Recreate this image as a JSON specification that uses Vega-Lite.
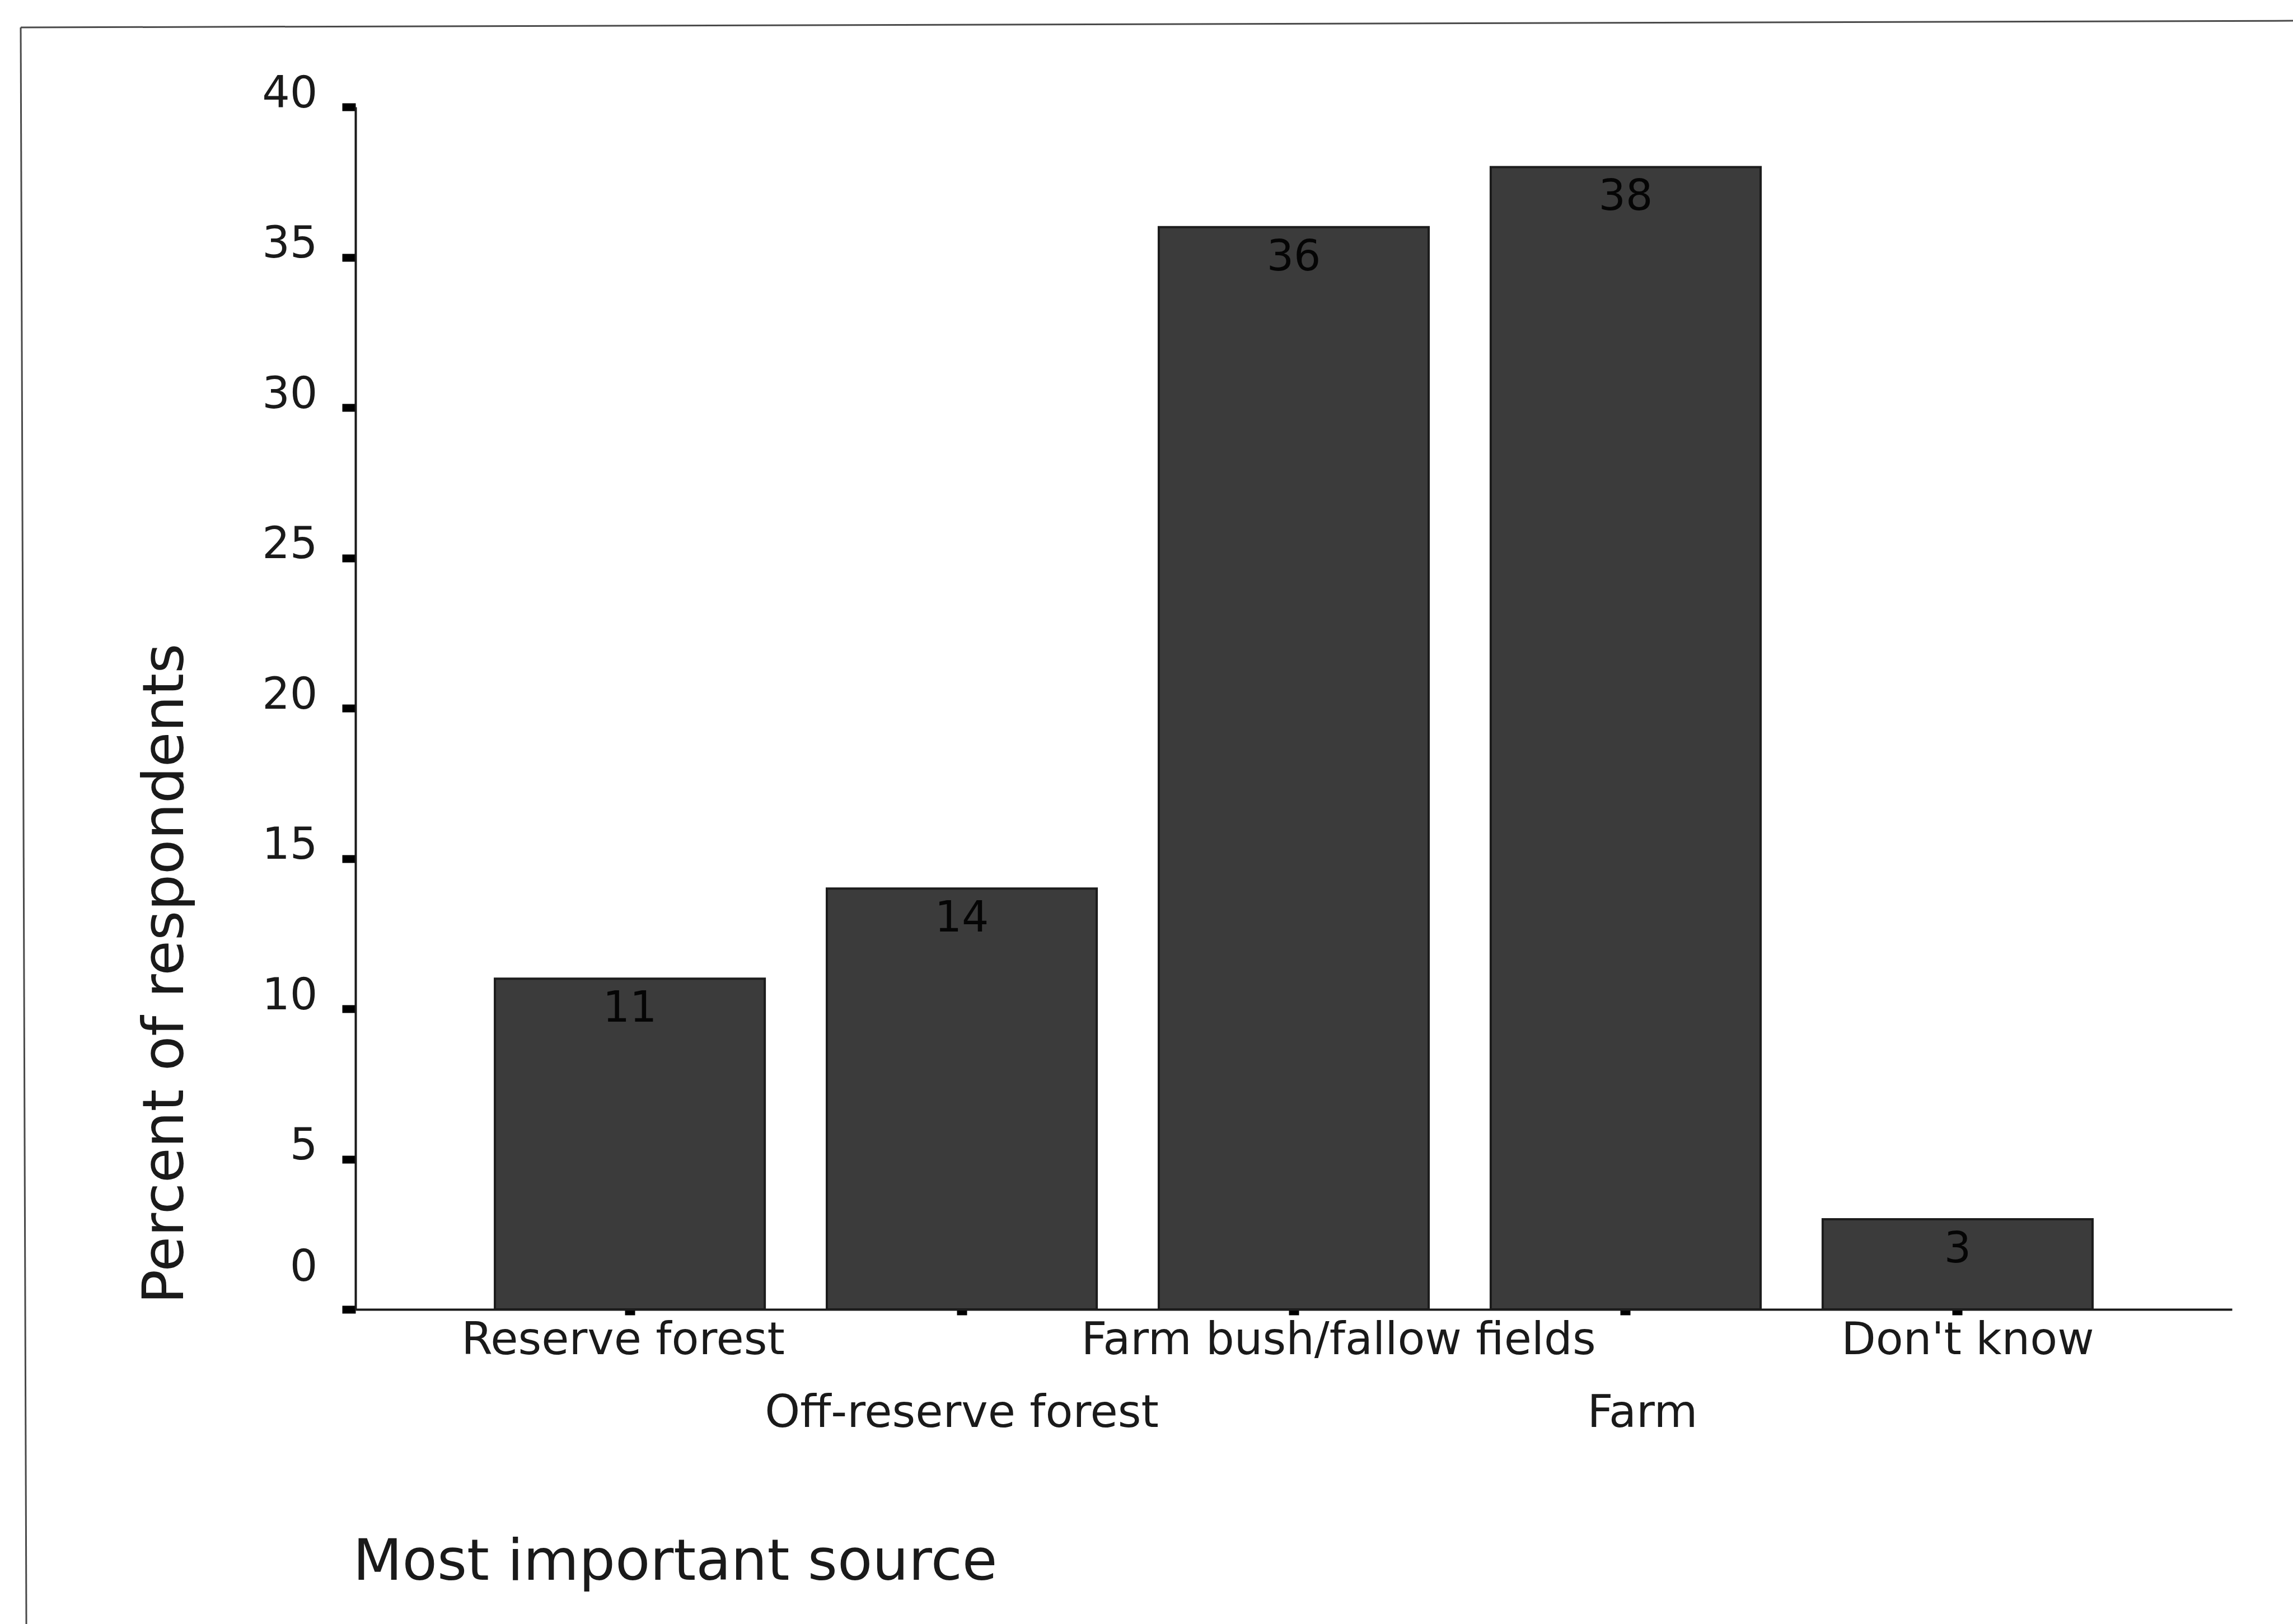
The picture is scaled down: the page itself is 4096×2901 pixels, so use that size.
{
  "$schema": "https://vega.github.io/schema/vega-lite/v6.json",
  "autosize": {"type": "none"},
  "width": 3352,
  "height": 2148,
  "padding": {"left": 635, "top": 191, "right": 109, "bottom": 562},
  "background": "white",
  "config": {"view": {"stroke": null}, "font": "DejaVu Sans"},
  "resolve": {"scale": {"x": "independent", "y": "independent"}},
  "layer": [
    {
      "data": {
        "values": [
          {"source": "Reserve forest", "percent": 11},
          {"source": "Off-reserve forest", "percent": 14},
          {"source": "Farm bush/fallow fields", "percent": 36},
          {"source": "Farm", "percent": 38},
          {"source": "Don't know", "percent": 3}
        ]
      },
      "encoding": {
        "x": {
          "field": "source",
          "type": "nominal",
          "sort": null,
          "scale": {"paddingInner": 0.187, "paddingOuter": 0.42},
          "axis": {
            "title": "Most important source",
            "labelAngle": 0,
            "labelFont": "DejaVu Sans",
            "labelFontSize": 80,
            "labelColor": "#1a1a1a",
            "labelAlign": "center",
            "labelBaseline": "top",
            "labelPadding": {"condition": {"test": "datum.value === 'Off-reserve forest' || datum.value === 'Farm'", "value": 136}, "value": 6},
            "labelOffset": {
              "condition": [
                {"test": "datum.value === 'Farm bush/fallow fields'", "value": 80},
                {"test": "datum.value === 'Farm'", "value": 30},
                {"test": "datum.value === \"Don't know\"", "value": 18},
                {"test": "datum.value === 'Reserve forest'", "value": -12}
              ],
              "value": 0
            },
            "labelLimit": 0,
            "labelOverlap": false,
            "labelFlush": false,
            "labelBound": false,
            "domainColor": "#1a1a1a",
            "domainWidth": 4,
            "tickColor": "#000000",
            "tickSize": 10,
            "tickWidth": 18,
            "grid": false,
            "titleFont": "DejaVu Sans",
            "titleFontSize": 102,
            "titleFontWeight": "normal",
            "titleColor": "#1a1a1a",
            "titleAlign": "left",
            "titleAnchor": "start",
            "titleBaseline": "alphabetic",
            "titleX": -5,
            "titleY": 482
          }
        },
        "y": {
          "field": "percent",
          "type": "quantitative",
          "scale": {"domain": [0, 40], "nice": false},
          "axis": {
            "title": "Percent of respondents",
            "values": [0, 5, 10, 15, 20, 25, 30, 35, 40],
            "labelFont": "DejaVu Sans",
            "labelFontSize": 78,
            "labelColor": "#1a1a1a",
            "labelAlign": "right",
            "labelBaseline": "middle",
            "labelPadding": 44,
            "labelOffset": {"condition": {"test": "datum.value === 0", "value": -75}, "value": -23},
            "labelOverlap": false,
            "labelFlush": false,
            "labelBound": false,
            "domainColor": "#1a1a1a",
            "domainWidth": 4,
            "tickColor": "#000000",
            "tickSize": 24,
            "tickWidth": 14,
            "grid": false,
            "titleFont": "DejaVu Sans",
            "titleFontSize": 102,
            "titleFontWeight": "normal",
            "titleColor": "#1a1a1a",
            "titleAngle": 270,
            "titleAlign": "center",
            "titleBaseline": "alphabetic",
            "titleX": -309,
            "titleY": 1548
          }
        }
      },
      "layer": [
        {"mark": {"type": "bar", "fill": "#3b3b3b", "stroke": "#1c1c1c", "strokeWidth": 4}},
        {
          "mark": {"type": "text", "align": "center", "baseline": "middle", "dy": 54, "fontSize": 76, "color": "#050505", "font": "DejaVu Sans"},
          "encoding": {"text": {"field": "percent", "type": "quantitative"}}
        }
      ]
    },
    {
      "data": {"values": [{}]},
      "mark": {"type": "rule", "color": "#4a4a4a", "strokeWidth": 3},
      "encoding": {
        "x": {"datum": -0.1784, "type": "quantitative", "scale": {"domain": [0, 1], "nice": false, "zero": false}, "axis": null},
        "y": {"datum": 1.0661, "type": "quantitative", "scale": {"domain": [0, 1], "nice": false, "zero": false}, "axis": null},
        "x2": {"datum": 1.04},
        "y2": {"datum": 1.0717}
      }
    },
    {
      "data": {"values": [{}]},
      "mark": {"type": "rule", "color": "#4a4a4a", "strokeWidth": 3},
      "encoding": {
        "x": {"datum": -0.1784, "type": "quantitative", "scale": {"domain": [0, 1], "nice": false, "zero": false}, "axis": null},
        "y": {"datum": 1.0661, "type": "quantitative", "scale": {"domain": [0, 1], "nice": false, "zero": false}, "axis": null},
        "x2": {"datum": -0.1754},
        "y2": {"datum": -0.265}
      }
    }
  ]
}
